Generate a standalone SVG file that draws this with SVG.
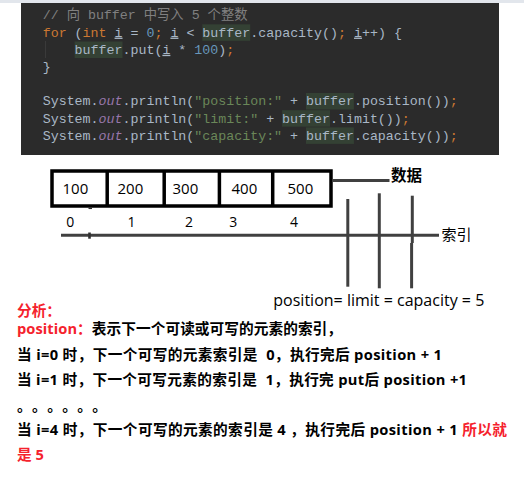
<svg xmlns="http://www.w3.org/2000/svg" width="524" height="482" viewBox="0 0 524 482">
<defs>
<style>
.code{font-family:"Liberation Mono","Noto Sans CJK SC",monospace;font-size:13.3px;fill:#a9b7c6;white-space:pre}
.kw{fill:#cc7832}
.num{fill:#6897bb}
.str{fill:#6a8759}
.cm{fill:#808080}
.fld{fill:#9876aa;font-style:italic}
.ul{text-decoration:underline}
.hl{fill:#344134}
.cell{font-family:"Open Sans","Noto Sans CJK SC",sans-serif;font-size:15px;fill:#000}
.idx{font-family:"Open Sans","Noto Sans CJK SC",sans-serif;font-size:14px;fill:#000;text-anchor:middle}
.ln{stroke:#404040;stroke-width:3;fill:none}
.an{font-family:"Open Sans","Noto Sans CJK SC",sans-serif;font-size:14.67px;font-weight:bold;fill:#000;white-space:pre}
.red{fill:#f5222d}
</style>
</defs>
<rect x="0" y="0" width="524" height="3" fill="#e2e6ec"/>
<g id="code-panel">
<rect x="21" y="3" width="478" height="152" fill="#2b2b2b"/>
<line x1="45.5" y1="41" x2="45.5" y2="58" stroke="#3a3a3a" stroke-width="1"/>
<rect class="hl" x="202.3" y="24.3" width="47.9" height="16.5"/>
<rect class="hl" x="74.6" y="41.5" width="47.9" height="16.5"/>
<rect class="hl" x="306" y="93" width="47.9" height="16.5"/>
<rect class="hl" x="282.1" y="110.2" width="47.9" height="16.5"/>
<rect class="hl" x="306" y="127.4" width="47.9" height="16.5"/>
<text class="code" x="42.7" y="19.4"><tspan class="cm">// 向 buffer 中写入 5 个整数</tspan></text>
<text class="code" x="42.7" y="36.6"><tspan class="kw">for</tspan> (<tspan class="kw">int</tspan> <tspan class="ul">i</tspan> = <tspan class="num">0</tspan><tspan class="kw">;</tspan> <tspan class="ul">i</tspan> &lt; buffer.capacity()<tspan class="kw">;</tspan> <tspan class="ul">i</tspan>++) {</text>
<text class="code" x="42.7" y="53.8">    buffer.put(<tspan class="ul">i</tspan> * <tspan class="num">100</tspan>)<tspan class="kw">;</tspan></text>
<text class="code" x="42.7" y="71">}</text>
<text class="code" x="42.7" y="105.4">System.<tspan class="fld">out</tspan>.println(<tspan class="str">"position:"</tspan> + buffer.position())<tspan class="kw">;</tspan></text>
<text class="code" x="42.7" y="122.6">System.<tspan class="fld">out</tspan>.println(<tspan class="str">"limit:"</tspan> + buffer.limit())<tspan class="kw">;</tspan></text>
<text class="code" x="42.7" y="139.8">System.<tspan class="fld">out</tspan>.println(<tspan class="str">"capacity:"</tspan> + buffer.capacity())<tspan class="kw">;</tspan></text>
</g>
<g id="buffer">
<rect x="52" y="171" width="279" height="35" fill="#fff" stroke="#000" stroke-width="3.5"/>
<line x1="107.2" y1="171" x2="107.2" y2="206" stroke="#000" stroke-width="3.5"/>
<line x1="164.2" y1="171" x2="164.2" y2="206" stroke="#000" stroke-width="3.5"/>
<line x1="219.4" y1="171" x2="219.4" y2="206" stroke="#000" stroke-width="3.5"/>
<line x1="272.7" y1="171" x2="272.7" y2="206" stroke="#000" stroke-width="3.5"/>
<text class="cell" x="62.5" y="193.5">100</text>
<text class="cell" x="117.5" y="193.5">200</text>
<text class="cell" x="172.5" y="193.5">300</text>
<text class="cell" x="231.5" y="193.5">400</text>
<text class="cell" x="287.5" y="193.5">500</text>
</g>
<g id="label-data">
<text x="391" y="181" style="font-family:'Noto Sans CJK SC',sans-serif;font-size:15.5px;font-weight:bold;fill:#000">数据</text>
</g>
<g id="index-labels">
<text class="idx" x="70.3" y="227">0</text>
<text class="idx" x="131.5" y="227">1</text>
<text class="idx" x="189" y="227">2</text>
<text class="idx" x="233.3" y="227">3</text>
<text class="idx" x="294" y="227">4</text>
</g>
<g id="label-index">
<text x="441.5" y="240" style="font-family:'Noto Sans CJK SC',sans-serif;font-size:15px;fill:#000">索引</text>
</g>
<g id="label-pointers">
<text x="273.3" y="306" textLength="211" lengthAdjust="spacing" style="font-family:'Open Sans','Noto Sans CJK SC',sans-serif;font-size:16px;fill:#000">position= limit = capacity = 5</text>
</g>
<g id="connectors">
<line class="ln" x1="333" y1="180.5" x2="389.5" y2="180.5" stroke-width="2.6"/>
<line class="ln" x1="61" y1="235.3" x2="439" y2="235.3"/>
<line x1="89.5" y1="232.5" x2="89.5" y2="238.7" stroke="#303030" stroke-width="2.6"/>
<line x1="88.5" y1="208.3" x2="92" y2="208.3" stroke="#303030" stroke-width="1.5"/>
<line class="ln" x1="347.8" y1="199" x2="347.8" y2="286.7" stroke-width="2.8"/>
<line class="ln" x1="379.3" y1="193.3" x2="379.3" y2="288.3" stroke-width="2.8"/>
<line class="ln" x1="412.3" y1="195.7" x2="412.3" y2="243" stroke-width="2.8"/>
<line class="ln" x1="411.6" y1="243" x2="411.6" y2="288.3" stroke-width="2.8"/>
</g>
<g id="analysis">
<text class="an red" x="17" y="316" style="font-family:'Noto Sans CJK SC',sans-serif">分析：</text>
<text class="an" x="17" y="334" textLength="325" lengthAdjust="spacing"><tspan class="red">position：</tspan>表示下一个可读或可写的元素的索引，</text>
<text class="an" x="17" y="360" textLength="425" lengthAdjust="spacing">当 i=0 时，下一个可写的元素索引是  0，执行完后 position + 1</text>
<text class="an" x="17" y="385" textLength="450" lengthAdjust="spacing">当 i=1 时，下一个可写元素的索引是  1，执行完 put后 position +1</text>
<text class="an" x="17" y="411" textLength="90" lengthAdjust="spacing">。。。。。。</text>
<text class="an" x="17" y="434.5" textLength="490" lengthAdjust="spacing">当 i=4 时，下一个可写的元素的索引是 4 ，执行完后 position + 1 <tspan class="red">所以就</tspan></text>
<text class="an red" x="17" y="459.5">是 5</text>
</g>
</svg>
